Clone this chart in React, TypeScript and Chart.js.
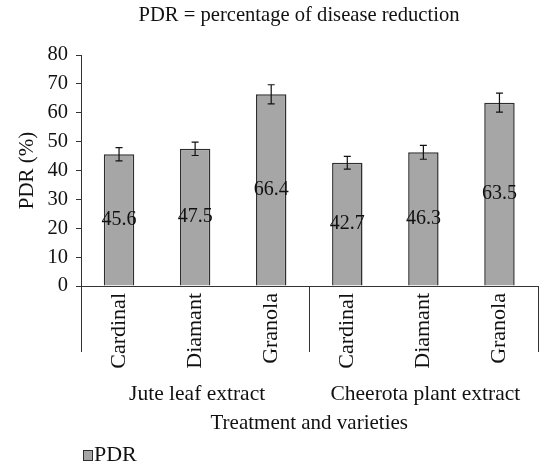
import React, { useEffect, useRef } from "react";
import { Chart, registerables } from "chart.js";

Chart.register(...registerables);

const categories = ["Cardinal", "Diamant", "Granola", "Cardinal", "Diamant", "Granola"];
const pdrValues = [45.6, 47.5, 66.4, 42.7, 46.3, 63.5];
const pdrErrors = [2.3, 2.3, 3.3, 2.2, 2.4, 3.3];
const groups = ["Jute leaf extract", "Cheerota plant extract"];
const groupSize = 3;
const yTicks = { min: 0, max: 80, step: 10 };

const FONT = "'Liberation Serif', 'Times New Roman', serif";
const TXT = "#111";
const BAR = "#a6a6a6";
const EDGE = "#2e2e2e";

const overlay = {
  id: "overlay",
  afterDatasetsDraw(chart: any) {
    const { ctx, chartArea } = chart;
    const y = chart.scales.y;
    const x = chart.scales.x;
    const meta = chart.getDatasetMeta(0);
    ctx.save();
    // error bars and value labels
    meta.data.forEach((bar: any, i: number) => {
      const v = pdrValues[i];
      const e = pdrErrors[i];
      const yt = y.getPixelForValue(v + e);
      const yb = y.getPixelForValue(v - e);
      ctx.strokeStyle = "#111";
      ctx.lineWidth = 1.2;
      ctx.beginPath();
      ctx.moveTo(bar.x, yt);
      ctx.lineTo(bar.x, yb);
      ctx.moveTo(bar.x - 3.5, yt);
      ctx.lineTo(bar.x + 3.5, yt);
      ctx.moveTo(bar.x - 3.5, yb);
      ctx.lineTo(bar.x + 3.5, yb);
      ctx.stroke();
      ctx.fillStyle = TXT;
      ctx.font = `20px ${FONT}`;
      ctx.textAlign = "center";
      ctx.textBaseline = "middle";
      ctx.fillText(String(v), bar.x, (bar.y + bar.base) / 2);
    });
    // group separators
    const bounds: number[] = [chartArea.left];
    for (let g = 1; g < groups.length; g++) {
      const a = x.getPixelForValue(g * groupSize - 1);
      const b = x.getPixelForValue(g * groupSize);
      bounds.push((a + b) / 2);
    }
    bounds.push(chartArea.right);
    ctx.strokeStyle = "#333";
    ctx.lineWidth = 1;
    ctx.beginPath();
    bounds.forEach((bx) => {
      const px = Math.round(bx) + 0.5;
      ctx.moveTo(px, chartArea.bottom);
      ctx.lineTo(px, chartArea.bottom + 66);
    });
    ctx.stroke();
    // group labels
    ctx.fillStyle = TXT;
    ctx.font = `21.5px ${FONT}`;
    ctx.textAlign = "center";
    ctx.textBaseline = "alphabetic";
    groups.forEach((g, i) => {
      ctx.fillText(g, (bounds[i] + bounds[i + 1]) / 2 + 2, 400);
    });
    // title
    ctx.font = `20.6px ${FONT}`;
    ctx.fillText("PDR = percentage of disease reduction", 299, 21);
    // legend
    ctx.fillStyle = BAR;
    ctx.fillRect(83, 450, 9, 10);
    ctx.strokeStyle = EDGE;
    ctx.lineWidth = 1;
    ctx.strokeRect(83.5, 450.5, 9, 10);
    ctx.fillStyle = TXT;
    ctx.font = `22px ${FONT}`;
    ctx.textAlign = "left";
    ctx.fillText("PDR", 94, 461);
    ctx.restore();
  },
};

export default function App() {
  const ref = useRef<HTMLCanvasElement | null>(null);
  useEffect(() => {
    if (!ref.current) return;
    const chart = new Chart(ref.current, {
      type: "bar",
      data: {
        labels: categories,
        datasets: [
          {
            label: "PDR",
            data: pdrValues,
            backgroundColor: BAR,
            borderColor: EDGE,
            borderWidth: 1.5,
            categoryPercentage: 0.8,
            barPercentage: 0.5,
          },
        ],
      },
      options: {
        animation: false,
        responsive: false,
        maintainAspectRatio: false,
        layout: { padding: { top: 55, right: 2.5, left: 0, bottom: 0 } },
        plugins: {
          legend: { display: false },
          title: { display: false },
          tooltip: { enabled: false },
        },
        scales: {
          x: {
            grid: { display: false, drawTicks: false },
            border: { display: true, color: "#333", width: 1 },
            ticks: {
              autoSkip: false,
              minRotation: 90,
              maxRotation: 90,
              padding: 7,
              color: TXT,
              font: { family: FONT, size: 22 },
            },
            title: {
              display: true,
              text: "Treatment and varieties",
              color: TXT,
              font: { family: FONT, size: 21 },
              padding: { top: 0, bottom: 29 },
            },
            afterFit: (s: any) => {
              s.height = 179;
            },
          },
          y: {
            min: yTicks.min,
            max: yTicks.max,
            grid: { drawOnChartArea: false, drawTicks: true, tickLength: 5, color: "#333" },
            border: { display: true, color: "#333", width: 1 },
            ticks: {
              stepSize: yTicks.step,
              padding: 8,
              color: TXT,
              font: { family: FONT, size: 20.5 },
            },
            title: {
              display: true,
              text: "PDR (%)",
              color: TXT,
              font: { family: FONT, size: 21 },
              padding: { top: 15, bottom: 0 },
            },
            afterFit: (s: any) => {
              s.width = 81;
            },
          },
        },
      },
      plugins: [overlay],
    });
    return () => chart.destroy();
  }, []);
  return (
    <div style={{ position: "absolute", left: 0, top: 0, width: 540, height: 465, background: "#fff" }}>
      <canvas ref={ref} width={540} height={465} style={{ width: 540, height: 465 }} />
    </div>
  );
}
